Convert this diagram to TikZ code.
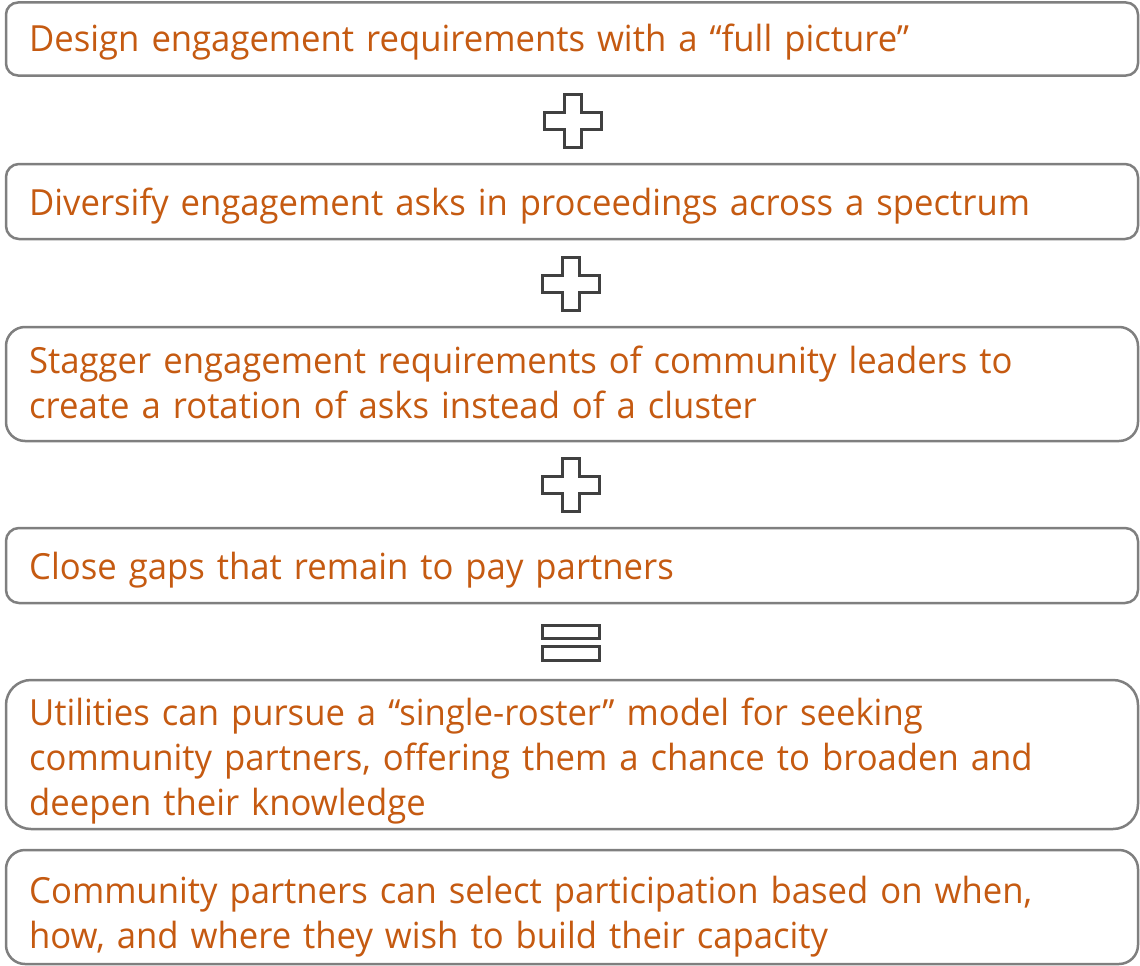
\documentclass[tikz,border=0pt]{standalone}
\usepackage{fontspec}
\setmainfont[FakeStretch=0.963]{Open Sans}
\definecolor{txtorange}{HTML}{C55A11}
\definecolor{boxgray}{HTML}{7F7F7F}
\definecolor{symdark}{HTML}{404040}
\begin{document}
\begin{tikzpicture}[x=1pt,y=-1pt,
  card/.style={draw=boxgray, line width=2.5pt, rounded corners=#1, fill=white,
    inner sep=0pt, minimum width=1132pt},
  cardtext/.style={anchor=base west, inner sep=0pt, text=txtorange,
    font=\fontsize{36}{45}\selectfont, align=left, text width=1095pt},
  sym/.style={draw=symdark, line width=3pt, fill=white, inner sep=0pt},
  plussign/.pic={
    \draw[sym] (-8.5,-26.5) -- (8.5,-26.5) -- (8.5,-8.5) -- (28.5,-8.5)
      -- (28.5,8.5) -- (8.5,8.5) -- (8.5,26.5) -- (-8.5,26.5) -- (-8.5,8.5)
      -- (-28.5,8.5) -- (-28.5,-8.5) -- (-8.5,-8.5) -- cycle;}]
\useasboundingbox (0,0) rectangle (1140,966);

% step cards
\node[card=12pt, minimum height=73pt]  (b1) at (572,39)    {};
\node[card=13pt, minimum height=75pt]  (b2) at (572,201.5) {};
\node[card=19pt, minimum height=114pt] (b3) at (572,384)   {};
\node[card=13pt, minimum height=75pt]  (b4) at (572,565.5) {};
\node[card=25pt, minimum height=149pt] (b5) at (572,754.5) {};
\node[card=19pt, minimum height=114pt] (b6) at (572,907)   {};

% card texts
\node[cardtext] (t1) at (29,52)  {Design engagement requirements with a “full picture”};
\node[cardtext] (t2) at (29,215) {Diversify engagement asks in proceedings across a spectrum};
\node[cardtext] (t3) at (29,373) {Stagger engagement requirements of community leaders to\\create a rotation of asks instead of a cluster};
\node[cardtext] (t4) at (29,579) {Close gaps that remain to pay partners};
\node[cardtext] (t5) at (29,725) {Utilities can pursue a “single-roster” model for seeking\\community partners, offering them a chance to broaden and\\deepen their knowledge};
\node[cardtext] (t6) at (29,903) {Community partners can select participation based on when,\\how, and where they wish to build their capacity};

% operators between cards
\pic (p1) at (572.5,121) {plussign};
\pic (p2) at (571,283.5) {plussign};
\pic (p3) at (571,485)   {plussign};
\node[sym, minimum width=57pt, minimum height=13pt] (eq1) at (571,632)   {};
\node[sym, minimum width=57pt, minimum height=14pt] (eq2) at (571,653.5) {};
\end{tikzpicture}
\end{document}
